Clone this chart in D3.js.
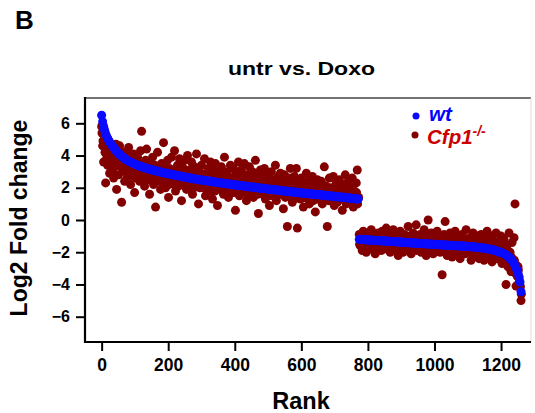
<!DOCTYPE html>
<html>
<head>
<meta charset="utf-8">
<script src="https://cdn.jsdelivr.net/npm/d3@7"></script>
<style>
  body { margin: 0; background: #fff; }
  svg { display: block; font-family: "Liberation Sans", Arial, Helvetica, sans-serif; }
</style>
</head>
<body>
<svg id="chart"></svg>
<script>
const width = 535;
const height = 413;

// ranks are spaced every 3 genes, split in up- and down-regulated blocks
const rankStep = 3;
const upStart = 0;
const downStart = 774;

const xTicks = [0, 200, 400, 600, 800, 1000, 1200];
const yTicks = [-6, -4, -2, 0, 2, 4, 6];

// wt log2 fold change (sorted curve)
const wtUp = [
  6.50,6.10,5.80,5.55,5.35,5.20,5.07,4.96,4.85,4.75,
  4.66,4.57,4.49,4.41,4.34,4.27,4.20,4.13,4.07,4.01,
  3.96,3.91,3.86,3.81,3.77,3.73,3.69,3.65,3.62,3.59,
  3.56,3.53,3.50,3.47,3.45,3.42,3.40,3.37,3.35,3.33,
  3.31,3.29,3.27,3.25,3.23,3.21,3.19,3.17,3.15,3.13,
  3.11,3.10,3.08,3.07,3.05,3.04,3.02,3.01,2.99,2.98,
  2.96,2.95,2.93,2.92,2.91,2.89,2.88,2.87,2.85,2.84,
  2.83,2.82,2.80,2.79,2.78,2.77,2.75,2.74,2.73,2.72,
  2.70,2.69,2.68,2.67,2.65,2.64,2.63,2.62,2.61,2.60,
  2.59,2.57,2.56,2.55,2.54,2.53,2.52,2.51,2.50,2.49,
  2.48,2.47,2.46,2.45,2.44,2.43,2.43,2.42,2.41,2.40,
  2.39,2.38,2.37,2.36,2.35,2.34,2.33,2.33,2.32,2.31,
  2.30,2.29,2.28,2.27,2.26,2.25,2.24,2.24,2.23,2.22,
  2.21,2.20,2.19,2.18,2.17,2.17,2.16,2.15,2.14,2.14,
  2.13,2.12,2.11,2.10,2.10,2.09,2.08,2.07,2.06,2.06,
  2.05,2.04,2.03,2.03,2.02,2.01,2.00,1.99,1.99,1.98,
  1.97,1.96,1.96,1.95,1.94,1.93,1.92,1.92,1.91,1.90,
  1.90,1.89,1.88,1.87,1.87,1.86,1.85,1.85,1.84,1.83,
  1.82,1.82,1.81,1.80,1.79,1.79,1.78,1.77,1.77,1.76,
  1.75,1.74,1.74,1.73,1.72,1.72,1.71,1.70,1.69,1.69,
  1.68,1.67,1.67,1.66,1.66,1.65,1.64,1.64,1.63,1.62,
  1.62,1.61,1.60,1.60,1.59,1.58,1.58,1.57,1.56,1.56,
  1.55,1.55,1.54,1.53,1.53,1.52,1.51,1.51,1.50,1.49,
  1.49,1.48,1.47,1.47,1.46,1.45,1.45,1.44,1.43,1.43,
  1.42,1.41,1.40,1.40,1.39,1.38,1.38,1.37,1.36,1.35,
  1.35,1.34,1.33,1.33,1.32,1.31,1.31,1.30
];
const wtDown = [
  -1.20,-1.20,-1.21,-1.21,-1.22,-1.22,-1.22,-1.23,-1.23,-1.24,
  -1.24,-1.24,-1.25,-1.25,-1.26,-1.26,-1.27,-1.27,-1.27,-1.28,
  -1.28,-1.29,-1.29,-1.29,-1.30,-1.30,-1.31,-1.31,-1.32,-1.32,
  -1.32,-1.33,-1.33,-1.34,-1.34,-1.34,-1.35,-1.35,-1.36,-1.36,
  -1.37,-1.37,-1.37,-1.38,-1.38,-1.39,-1.39,-1.40,-1.40,-1.40,
  -1.41,-1.41,-1.42,-1.42,-1.43,-1.43,-1.43,-1.44,-1.44,-1.45,
  -1.45,-1.46,-1.46,-1.46,-1.47,-1.47,-1.48,-1.48,-1.48,-1.49,
  -1.49,-1.50,-1.50,-1.50,-1.51,-1.51,-1.52,-1.52,-1.52,-1.53,
  -1.53,-1.54,-1.54,-1.54,-1.55,-1.55,-1.55,-1.56,-1.56,-1.57,
  -1.57,-1.57,-1.58,-1.58,-1.58,-1.59,-1.59,-1.59,-1.60,-1.60,
  -1.61,-1.61,-1.61,-1.62,-1.62,-1.62,-1.63,-1.63,-1.64,-1.64,
  -1.65,-1.65,-1.66,-1.66,-1.67,-1.67,-1.68,-1.69,-1.69,-1.70,
  -1.71,-1.72,-1.72,-1.73,-1.74,-1.75,-1.76,-1.77,-1.78,-1.79,
  -1.80,-1.81,-1.83,-1.84,-1.86,-1.87,-1.89,-1.91,-1.93,-1.95,
  -1.97,-2.00,-2.02,-2.04,-2.07,-2.10,-2.13,-2.17,-2.21,-2.26,
  -2.31,-2.37,-2.44,-2.52,-2.61,-2.71,-2.83,-2.96,-3.12,-3.30,
  -3.52,-3.85,-4.45
];

// Cfp1-/- log2 fold change, genes at the same ranks as wt
const cfpUp = [
  5.8,4.6,3.6,5.2,2.3,4.1,3.4,4.8,2.9,3.7,
  4.2,3.1,2.6,4.4,3.5,1.9,3.9,2.8,4.6,3.3,
  1.1,3.6,4.2,2.4,3.0,3.8,2.7,4.5,3.2,2.2,
  3.5,2.9,4.1,1.7,3.3,2.6,3.9,3.0,2.4,4.3,
  5.5,2.8,3.4,2.1,3.7,4.4,2.5,3.1,1.6,3.6,
  2.9,3.9,2.2,3.3,0.8,2.7,4.2,3.0,2.4,1.9,
  3.5,2.6,4.8,3.1,2.0,2.8,3.7,1.4,3.2,2.5,
  3.9,2.3,3.0,4.3,1.8,2.7,3.4,2.1,3.8,2.6,
  1.2,3.3,2.4,3.7,2.9,1.9,4.0,2.2,3.1,2.7,
  3.6,1.6,2.8,3.3,2.1,4.1,2.5,1.0,3.0,2.3,
  3.4,2.0,2.7,3.8,1.5,2.9,2.4,3.2,1.8,3.6,
  2.6,1.3,3.1,2.2,3.5,2.8,0.9,2.5,3.0,1.9,
  3.3,2.4,1.6,3.9,2.7,2.0,3.0,1.4,2.6,3.4,
  2.2,1.7,3.2,2.5,0.6,2.9,2.0,3.6,1.5,2.4,
  3.1,1.8,2.6,3.5,2.1,1.2,2.8,2.3,3.3,1.6,
  2.5,3.0,1.4,2.2,3.7,1.9,2.7,0.4,2.4,3.1,
  1.7,2.6,2.0,3.2,1.3,2.4,2.9,1.8,0.9,2.3,
  3.0,1.5,2.5,2.0,3.4,1.2,2.2,2.7,1.6,2.9,
  1.9,2.4,0.7,2.8,1.4,2.1,-0.4,2.6,1.7,3.2,
  2.3,1.1,2.0,2.7,1.5,3.2,-0.5,1.8,2.4,1.3,
  2.6,1.9,0.8,2.2,1.4,2.9,1.7,2.4,1.0,2.0,
  1.5,2.7,1.2,2.1,0.5,1.8,2.5,1.3,2.2,1.6,
  2.4,1.0,1.9,3.3,1.4,2.1,-0.4,1.7,2.6,1.2,
  2.0,1.5,2.7,0.9,1.8,2.3,1.1,1.6,2.5,1.3,
  1.9,0.6,2.2,1.4,2.8,1.0,1.7,2.4,1.2,2.0,
  1.5,2.6,0.8,1.8,1.1,2.3,3.1,1.4
];
const cfpDown = [
  -0.9,-1.6,-1.1,-1.9,-0.7,-1.4,-1.2,-2.0,-0.8,-1.5,
  -1.1,-1.8,-0.6,-1.3,-1.7,-0.9,-2.1,-1.2,-1.5,-0.8,
  -1.6,-1.0,-1.9,-0.7,-1.3,-1.8,-1.1,-0.5,-1.7,-1.4,
  -0.9,-2.0,-1.2,-1.6,-0.6,-1.4,-1.9,-1.0,-1.5,-2.2,
  -1.1,-0.7,-1.7,-1.3,-2.0,-0.9,-1.5,-1.2,-1.8,-0.4,
  -1.6,-1.0,-2.1,-1.3,-0.8,-1.7,-1.4,-0.3,-1.9,-1.2,
  -1.5,-0.9,-2.0,-1.3,-1.7,-0.6,-1.4,-2.2,-1.1,0.0,
  -1.8,-1.2,-0.8,-1.6,-2.1,-1.0,-1.4,-1.9,-0.7,-1.5,
  -1.3,-2.0,-1.1,-3.4,-1.7,-0.9,-0.1,-1.5,-2.2,-1.2,
  -1.8,-0.8,-1.4,-2.3,-1.1,-1.6,-0.7,-2.0,-1.3,-1.9,
  -1.0,-2.4,-1.5,-0.9,-1.8,-1.2,-2.1,-0.6,-1.7,-1.4,
  -2.0,-1.1,-2.5,-1.5,-0.8,-1.9,-1.3,-2.2,-1.0,-1.7,
  -2.4,-1.4,-0.9,-2.0,-1.6,-2.5,-1.2,-1.9,-0.7,-2.2,
  -1.5,-2.1,-1.0,-2.6,-1.7,-1.3,-2.3,-0.8,-1.9,-2.4,
  -1.4,-2.2,-1.0,-2.7,-1.8,-1.2,-2.5,-4.0,-1.6,-2.9,
  -0.8,-2.0,-3.2,-1.4,-2.6,-1.1,1.0,-4.1,-3.4,-2.9,
  -3.6,-4.2,-5.0
];
// Cfp1-/- genes at the in-between ranks (start + 1)
const cfpUpB = [
  5.4,4.9,5.6,4.2,4.7,3.9,4.4,3.6,4.1,4.5,
  3.8,4.3,3.6,4.0,4.7,3.4,3.9,4.2,3.5,3.7,
  3.4,3.9,3.1,3.6,4.2,3.3,2.9,3.7,3.2,3.5,
  3.0,3.4,2.7,3.7,3.2,2.9,3.5,2.6,3.1,3.3,
  2.8,3.5,3.0,2.6,3.3,2.9,3.6,2.7,3.1,2.5,
  3.2,2.6,2.9,3.4,2.4,3.0,2.7,3.3,2.5,2.9,
  2.7,3.1,2.3,2.9,3.2,2.5,2.8,2.2,3.0,2.6,
  2.4,2.9,2.6,2.2,3.1,2.7,2.3,2.8,2.5,3.0,
  2.6,2.2,2.9,2.4,2.7,2.1,3.0,2.5,2.3,2.8,
  2.3,2.7,2.0,2.5,2.9,2.2,2.6,2.4,2.0,2.7,
  2.5,2.1,2.8,2.3,2.0,2.6,2.9,1.9,2.4,2.2,
  2.0,2.6,2.3,1.8,2.7,2.1,2.4,2.8,1.9,2.5,
  2.2,1.8,2.6,2.0,2.4,2.7,1.9,2.3,2.1,2.5,
  2.6,2.0,2.3,1.7,2.5,2.2,1.8,2.4,2.7,2.0,
  1.9,2.4,2.1,1.7,2.6,2.0,2.3,1.6,2.2,2.5,
  2.1,1.7,2.4,1.9,2.2,2.6,1.6,2.0,2.3,1.8,
  2.2,1.6,2.0,2.4,1.8,2.1,1.5,2.3,1.9,2.5,
  1.7,2.2,1.9,1.5,2.4,1.8,2.0,1.6,2.3,1.9,
  2.1,1.6,2.3,1.8,1.5,2.0,2.4,1.7,1.9,1.4,
  1.8,2.2,1.5,2.0,1.7,1.4,2.1,1.9,1.6,2.3,
  1.5,1.9,2.2,1.4,1.8,1.6,2.1,1.3,1.9,1.7,
  2.0,1.4,1.8,1.6,2.2,1.3,1.7,1.9,1.5,2.1,
  1.6,1.9,1.3,1.7,2.0,1.5,1.8,1.2,1.6,1.9,
  1.4,1.8,1.6,1.2,1.9,1.5,1.7,2.0,1.3,1.6,
  1.7,1.3,1.5,1.9,1.2,1.6,1.4,1.8,1.5,1.1,
  1.6,1.3,1.8,1.2,1.5,1.7,1.0,1.4
];
const cfpDownB = [
  -1.5,-1.1,-1.3,-1.6,-1.0,-1.4,-1.7,-1.2,-1.5,-1.1,
  -1.4,-1.0,-1.6,-1.2,-1.5,-1.3,-1.1,-1.7,-1.4,-1.2,
  -1.1,-1.5,-1.3,-1.7,-1.2,-1.0,-1.6,-1.4,-1.1,-1.8,
  -1.6,-1.2,-1.4,-1.1,-1.7,-1.3,-1.5,-1.8,-1.2,-1.0,
  -1.3,-1.6,-1.1,-1.5,-1.2,-1.7,-1.4,-1.0,-1.6,-1.3,
  -1.5,-1.2,-1.7,-1.4,-1.1,-1.6,-1.3,-1.8,-1.5,-1.2,
  -1.3,-1.7,-1.2,-1.6,-1.4,-1.9,-1.1,-1.5,-1.7,-1.3,
  -1.6,-1.2,-1.8,-1.4,-1.3,-1.7,-1.5,-1.1,-1.6,-1.9,
  -1.4,-1.7,-1.2,-1.6,-1.9,-1.3,-1.5,-1.8,-1.4,-1.2,
  -1.7,-1.3,-1.9,-1.5,-1.2,-1.8,-1.4,-1.6,-2.0,-1.3,
  -1.5,-1.8,-1.3,-1.7,-2.0,-1.4,-1.6,-1.9,-1.2,-1.7,
  -1.9,-1.4,-1.7,-2.1,-1.5,-1.8,-1.3,-2.0,-1.6,-1.9,
  -1.5,-2.0,-1.7,-1.4,-2.2,-1.8,-1.6,-2.1,-1.9,-1.5,
  -2.0,-1.7,-2.3,-1.9,-1.6,-2.2,-2.0,-1.8,-2.4,-2.1,
  -2.3,-1.9,-2.5,-2.1,-2.4,-2.0,-2.6,-2.3,-2.8,-2.2,
  -2.6,-2.9,-2.3,-2.7,-3.0,-2.5,-3.3,-2.8,-3.5,-3.1,
  -3.8,-4.1,-4.6
];

const toPoints = (values, start) => values.map((v, i) => ({ rank: start + i * rankStep, value: v }));
const wtPoints = toPoints(wtUp, upStart).concat(toPoints(wtDown, downStart));
const cfpPoints = toPoints(cfpUp, upStart)
  .concat(toPoints(cfpDown, downStart))
  .concat(toPoints(cfpUpB, upStart + 1))
  .concat(toPoints(cfpDownB, downStart + 1));

const svg = d3.select("#chart")
  .attr("width", width)
  .attr("height", height);

const plot = { left: 85, right: 531, top: 98, bottom: 342 };

const xScale = d3.scaleLinear()
  .domain([-50, 1290])
  .range([plot.left, plot.right]);

const yScale = d3.scaleLinear()
  .domain([-7.57, 7.57])
  .range([plot.bottom, plot.top]);

// panel letter and title
svg.append("text")
  .attr("x", 15)
  .attr("y", 29)
  .attr("font-size", 26)
  .attr("font-weight", "bold")
  .text("B");

svg.append("text")
  .attr("x", 228)
  .attr("y", 75)
  .attr("font-size", 19)
  .attr("font-weight", "bold")
  .attr("textLength", 147)
  .attr("lengthAdjust", "spacingAndGlyphs")
  .text("untr vs. Doxo");

// frame
svg.append("line")
  .attr("x1", plot.left).attr("x2", plot.right)
  .attr("y1", plot.top).attr("y2", plot.top)
  .attr("stroke", "#444").attr("stroke-width", 1.5);
svg.append("line")
  .attr("x1", plot.right).attr("x2", plot.right)
  .attr("y1", plot.top).attr("y2", plot.bottom)
  .attr("stroke", "#ddd").attr("stroke-width", 1);

// points
svg.append("g")
  .selectAll("circle")
  .data(cfpPoints)
  .enter()
  .append("circle")
  .attr("cx", d => xScale(d.rank))
  .attr("cy", d => yScale(d.value))
  .attr("r", 4.5)
  .attr("fill", "#830000");

svg.append("g")
  .selectAll("circle")
  .data(wtPoints)
  .enter()
  .append("circle")
  .attr("cx", d => xScale(d.rank))
  .attr("cy", d => yScale(d.value))
  .attr("r", 4.5)
  .attr("fill", "#0a0aff");

// axes
const xAxis = d3.axisBottom(xScale).tickValues(xTicks).tickFormat(d3.format("d")).tickSize(9).tickPadding(8);
const gx = svg.append("g")
  .attr("transform", `translate(0, ${plot.bottom})`)
  .call(xAxis);

const yAxis = d3.axisLeft(yScale).tickValues(yTicks).tickSize(9).tickPadding(6);
const gy = svg.append("g")
  .attr("transform", `translate(${plot.left}, 0)`)
  .call(yAxis);

[gx, gy].forEach(g => {
  g.select(".domain").remove();
  g.selectAll(".tick line").attr("stroke", "#000").attr("stroke-width", 2);
  g.selectAll(".tick text")
    .attr("fill", "#000")
    .attr("font-family", "Liberation Sans, Arial, sans-serif")
    .attr("font-weight", "bold");
});
gx.selectAll(".tick text").attr("font-size", 17.5);
gy.selectAll(".tick text").attr("font-size", 16);

svg.append("line")
  .attr("x1", plot.left).attr("x2", plot.left)
  .attr("y1", plot.top - 1).attr("y2", plot.bottom + 1)
  .attr("stroke", "#000").attr("stroke-width", 2.2);
svg.append("line")
  .attr("x1", plot.left - 1).attr("x2", plot.right)
  .attr("y1", plot.bottom).attr("y2", plot.bottom)
  .attr("stroke", "#000").attr("stroke-width", 2.2);

// axis titles
svg.append("text")
  .attr("x", 301)
  .attr("y", 409)
  .attr("text-anchor", "middle")
  .attr("font-size", 23.5)
  .attr("font-weight", "bold")
  .text("Rank");

svg.append("text")
  .attr("transform", "translate(27, 218) rotate(-90)")
  .attr("text-anchor", "middle")
  .attr("font-size", 23)
  .attr("font-weight", "bold")
  .text("Log2 Fold change");

// legend
const legend = svg.append("g");
legend.append("circle").attr("cx", 416).attr("cy", 116).attr("r", 3.5).attr("fill", "#0a0aff");
legend.append("text")
  .attr("x", 429).attr("y", 121)
  .attr("font-size", 20.5)
  .attr("font-weight", "bold")
  .attr("font-style", "italic")
  .attr("fill", "#0000ff")
  .text("wt");

legend.append("circle").attr("cx", 415).attr("cy", 135).attr("r", 3.5).attr("fill", "#830000");
const cfpLabel = legend.append("text")
  .attr("x", 427).attr("y", 143.5)
  .attr("font-size", 20.5)
  .attr("font-weight", "bold")
  .attr("font-style", "italic")
  .attr("fill", "#cc0000");
cfpLabel.append("tspan").text("Cfp1");
cfpLabel.append("tspan")
  .attr("font-size", 14)
  .attr("dy", -8)
  .text("-/-");
</script>
</body>
</html>
